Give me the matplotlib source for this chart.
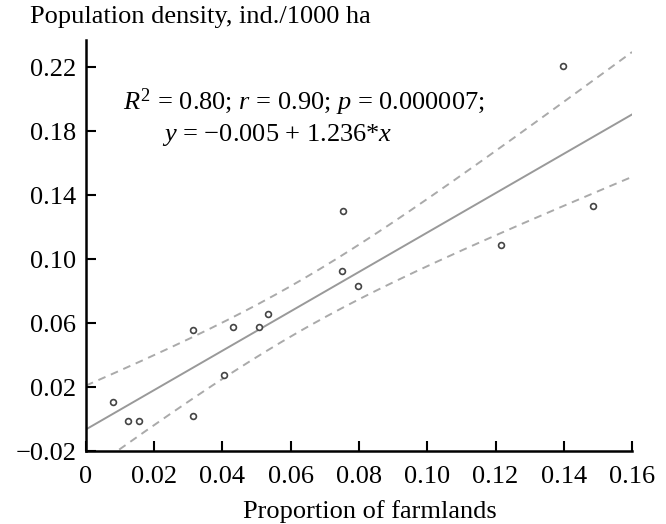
import numpy as np
import matplotlib
matplotlib.use('Agg')
import matplotlib.pyplot as plt

plt.rcParams['font.family'] = ['Liberation Serif', 'DejaVu Serif']
plt.rcParams['mathtext.fontset'] = 'custom'
plt.rcParams['mathtext.rm'] = 'Liberation Serif'
plt.rcParams['mathtext.it'] = 'Liberation Serif:italic'

# Доля сельхозугодий и плотность популяции
farmland = [0.008, 0.0124, 0.0156, 0.0314, 0.0314, 0.0405, 0.0431, 0.0508,
            0.0534, 0.0752, 0.0749, 0.0797, 0.1215, 0.1398, 0.1486]
density = [0.011, -0.001, -0.001, 0.056, 0.002, 0.0275, 0.0575, 0.0575,
           0.0654, 0.130, 0.0925, 0.083, 0.109, 0.2206, 0.133]

xticks = [0, 0.02, 0.04, 0.06, 0.08, 0.10, 0.12, 0.14, 0.16]
xtick_labels = ['0', '0.02', '0.04', '0.06', '0.08', '0.10', '0.12', '0.14', '0.16']
yticks = [-0.02, 0.02, 0.06, 0.10, 0.14, 0.18, 0.22]
ytick_labels = ['\u22120.02', '0.02', '0.06', '0.10', '0.14', '0.18', '0.22']

x = np.array(farmland)
y = np.array(density)
n = len(x)

# линейная регрессия + 95% доверительный интервал
b1, b0 = np.polyfit(x, y, 1)
resid = y - (b0 + b1 * x)
s = np.sqrt(np.sum(resid**2) / (n - 2))
t_crit = 2.160  # t(0.975, 13)
xx = np.linspace(0, 0.16, 200)
yy = b0 + b1 * xx
se = s * np.sqrt(1 / n + (xx - x.mean())**2 / np.sum((x - x.mean())**2))

fig = plt.figure(figsize=(6.66, 5.24), dpi=100)
ax = fig.add_axes([0.129, 0.139, 0.820, 0.785])

ax.plot(xx, yy, color='#999999', lw=1.4)
ax.plot(xx, yy + t_crit * se, color='#aaaaaa', lw=1.4, ls=(0, (4, 3)))
ax.plot(xx, yy - t_crit * se, color='#aaaaaa', lw=1.4, ls=(0, (4, 3)))
ax.plot(x, y, 'o', mfc='white', mec='#444444', ms=4.2, mew=1.2, zorder=5)

ax.set_xlim(0, 0.16)
ax.set_ylim(-0.02, 0.237)
ax.set_xticks(xticks)
ax.set_xticklabels(xtick_labels)
ax.set_yticks(yticks)
ax.set_yticklabels(ytick_labels)
ax.tick_params(direction='in', length=7, width=1.5, labelsize=19)
ax.tick_params(axis='x', pad=11)
ax.tick_params(axis='y', pad=7)
for side in ['top', 'right']:
    ax.spines[side].set_visible(False)
for side in ['left', 'bottom']:
    ax.spines[side].set_linewidth(1.8)

ax.text(0.0108, 0.193, '$R^2$ = 0.80; $r$ = 0.90; $p$ = 0.000007;', fontsize=19,
        va='baseline')
ax.text(0.0223, 0.1735, '$y$ = \u22120.005 + 1.236*$x$', fontsize=19, va='baseline')

fig.text(0.045, 0.968, 'Population density, ind./1000 ha', fontsize=19, va='center')
fig.text(0.556, 0.024, 'Proportion of farmlands', fontsize=19, ha='center', va='center')

plt.savefig('out.png', dpi=100)
